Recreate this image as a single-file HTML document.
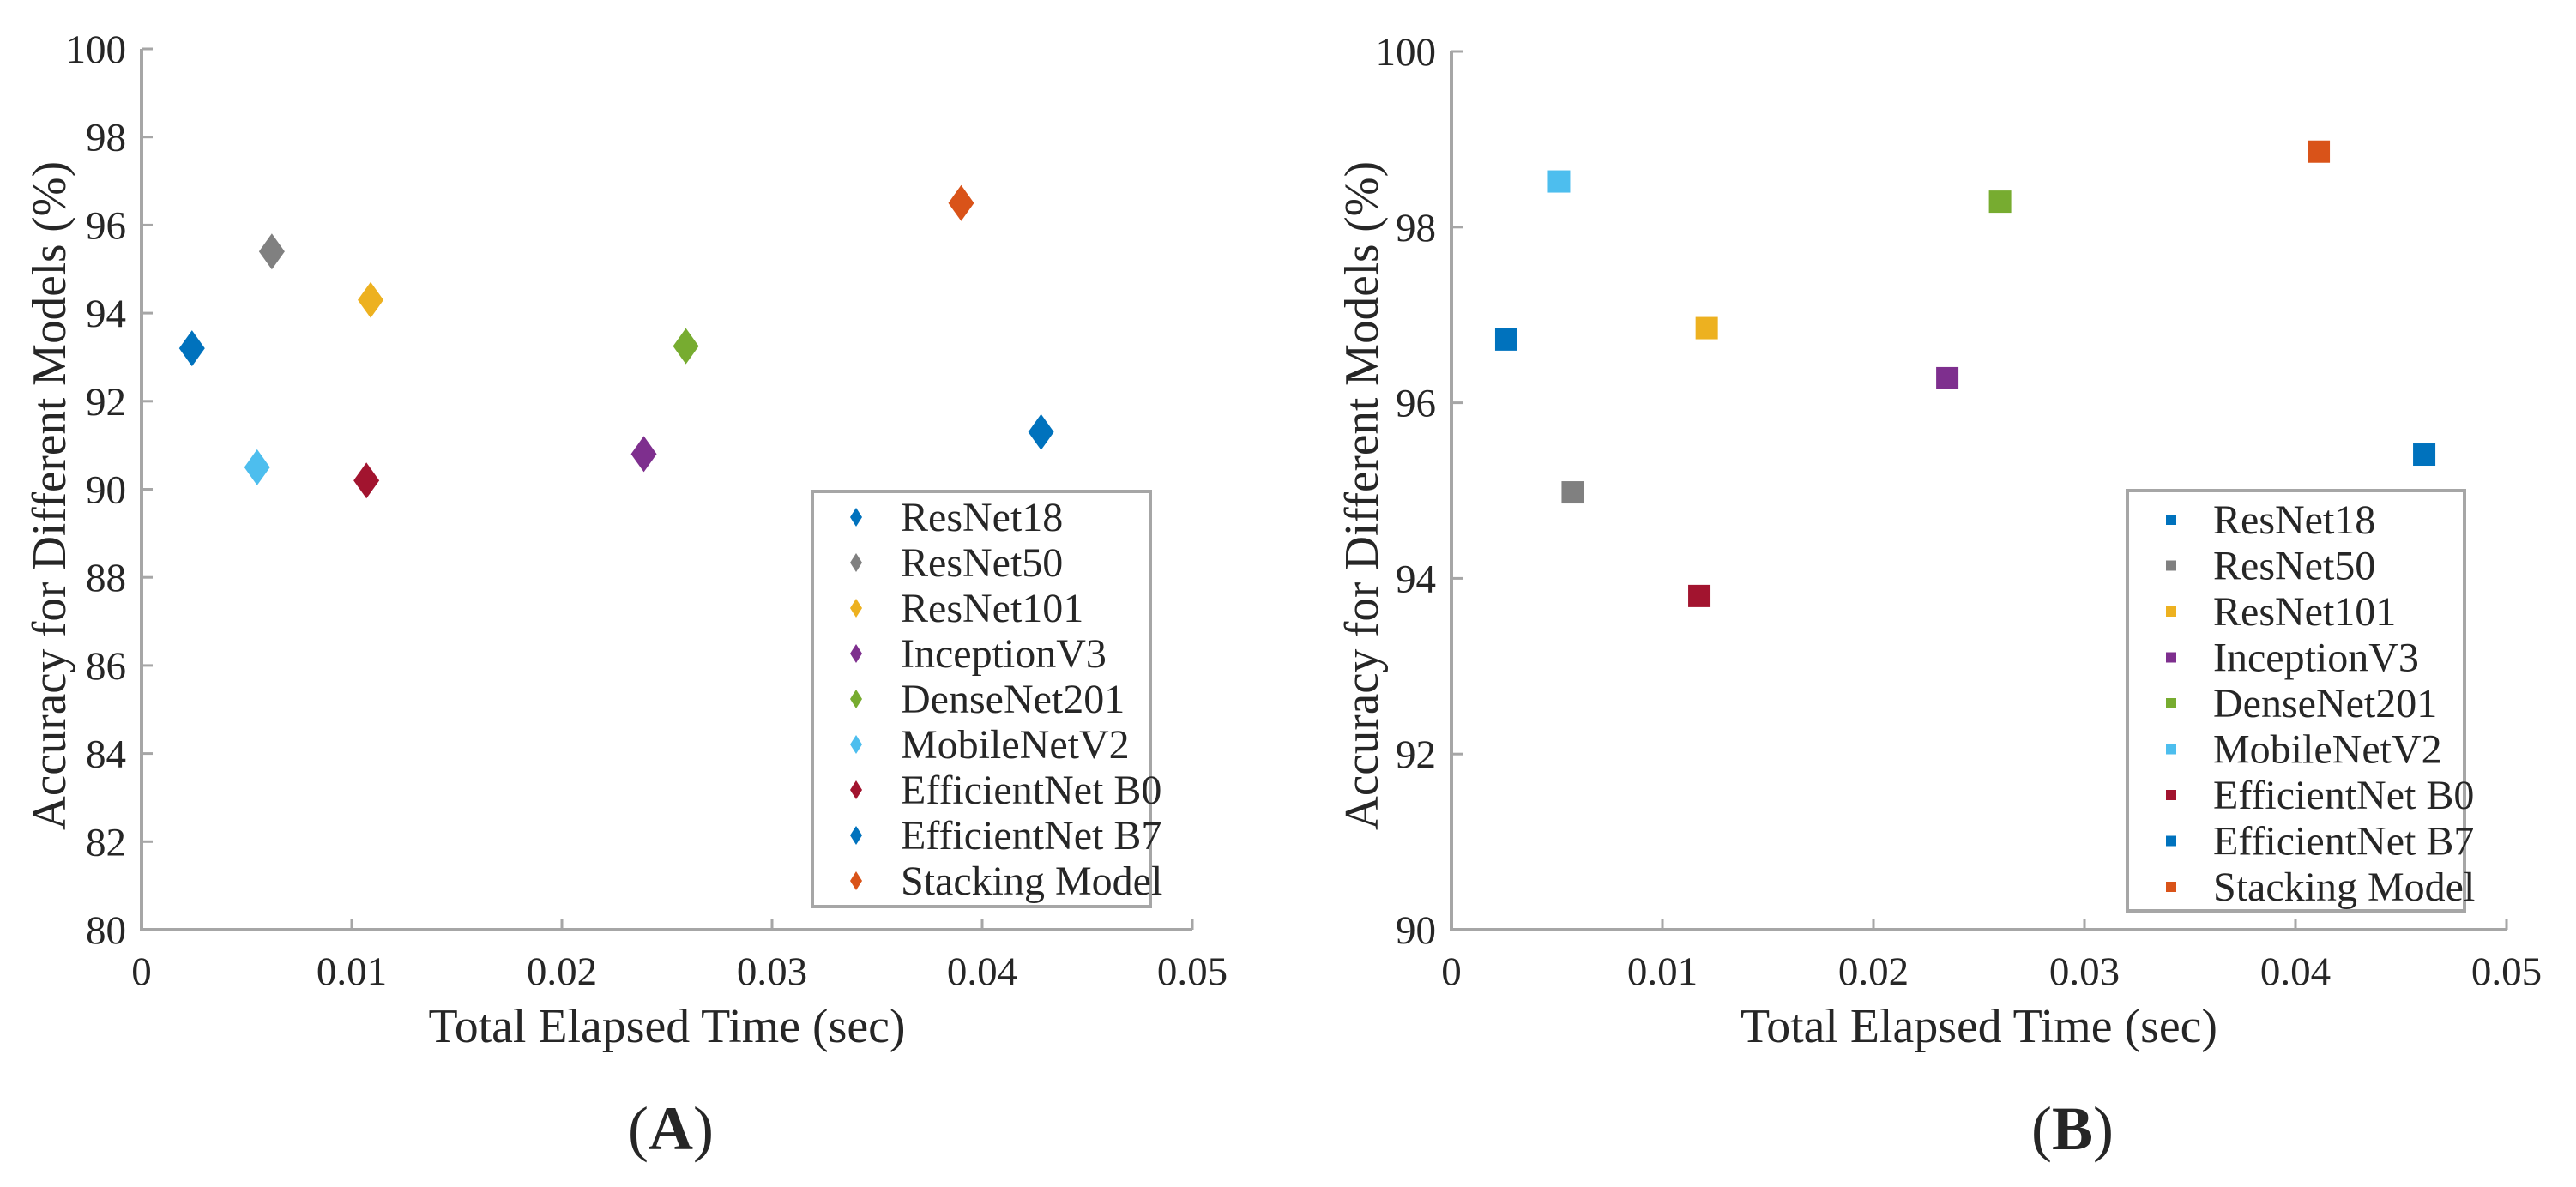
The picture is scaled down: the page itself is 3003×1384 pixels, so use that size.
<!DOCTYPE html>
<html>
<head>
<meta charset="utf-8">
<style>
html,body{margin:0;padding:0;background:#fff;}
svg{display:block;}
text{font-family:"Liberation Serif",serif;fill:#262626;}
</style>
</head>
<body>
<svg id="chart" width="3003" height="1384" viewBox="0 0 3003 1384" xmlns="http://www.w3.org/2000/svg"></svg>
<script>
const models = ["ResNet18","ResNet50","ResNet101","InceptionV3","DenseNet201","MobileNetV2","EfficientNet B0","EfficientNet B7","Stacking Model"];
const colors = ["#0072BD","#808080","#EDB120","#7E2F8E","#77AC30","#4DBEEE","#A2142F","#0072BD","#D95319"];
const timeA = [0.0024,0.0062,0.0109,0.0239,0.0259,0.0055,0.0107,0.0428,0.0390];
const accA  = [93.2,95.4,94.3,90.8,93.25,90.5,90.2,91.3,96.5];
const timeB = [0.0026,0.00575,0.0121,0.0235,0.0260,0.0051,0.01175,0.0461,0.0411];
const accB  = [96.72,94.98,96.85,96.28,98.29,98.52,93.80,95.41,98.86];
const xTicks = ["0","0.01","0.02","0.03","0.04","0.05"];
const yTicksA = ["80","82","84","86","88","90","92","94","96","98","100"];
const yTicksB = ["90","92","94","96","98","100"];

const NS = "http://www.w3.org/2000/svg";
const svg = document.getElementById("chart");
function mk(tag, attrs, parent){
  const e = document.createElementNS(NS, tag);
  for (const k in attrs) e.setAttribute(k, attrs[k]);
  (parent||svg).appendChild(e);
  return e;
}

function panel(cfg){
  const g = mk("g", {});
  
  
  const xs = v => cfg.x0 + (v - 0) / 0.05 * (cfg.x1 - cfg.x0);
  const ys = v => cfg.yb - (v - cfg.ymin) / (cfg.ymax - cfg.ymin) * (cfg.yb - cfg.yt);
  const ax = mk("path", {d:`M${cfg.x0} ${cfg.yt} L${cfg.x0} ${cfg.yb} L${cfg.x1} ${cfg.yb}`, fill:"none", stroke:"#a6a6a6", "stroke-width":4}, g);
  
  
  xTicks.forEach((t,i)=>{
    const v = i*0.01, x = xs(v);
    mk("line", {x1:x, y1:cfg.yb, x2:x, y2:cfg.yb-13, stroke:"#a6a6a6", "stroke-width":3}, g);
    const tx = mk("text", {x:x, y:cfg.yb+64, "text-anchor":"middle", "font-size":47}, g);
    tx.textContent = t;
    
    
  });
  cfg.yTicks.forEach(t=>{
    const y = ys(parseFloat(t));
    mk("line", {x1:cfg.x0, y1:y, x2:cfg.x0+13, y2:y, stroke:"#a6a6a6", "stroke-width":3}, g);
    const tx = mk("text", {x:cfg.x0-18, y:y+16, "text-anchor":"end", "font-size":47}, g);
    tx.textContent = t;
    
    
  });
  const xt = mk("text", {x:(cfg.x0+cfg.x1)/2, y:1215, "text-anchor":"middle", "font-size":56, textLength:556, lengthAdjust:"spacingAndGlyphs"}, g);
  xt.textContent = "Total Elapsed Time (sec)";
  
  
  const yc = 578;
  const yt = mk("text", {x:cfg.ylx, y:yc, "text-anchor":"middle", "font-size":56, transform:`rotate(-90 ${cfg.ylx} ${yc})`, textLength:780, lengthAdjust:"spacingAndGlyphs"}, g);
  yt.textContent = "Accuracy for Different Models (%)";
  
  
  cfg.tx.forEach((tv,i)=>{
    const x = xs(tv), y = ys(cfg.acc[i]);
    let m;
    if (cfg.shape === "diamond") {
      m = mk("path", {d:`M${x} ${y-21} L${x+15} ${y} L${x} ${y+21} L${x-15} ${y} Z`, fill:colors[i]}, g);
    } else {
      m = mk("rect", {x:x-13, y:y-13, width:26, height:26, fill:colors[i]}, g);
    }
    
    
  });
  const L = cfg.leg;
  const lg = mk("g", {}, g);
  
  
  mk("rect", {x:L.x, y:L.y, width:L.w, height:L.h, fill:"#fff", stroke:"#a6a6a6", "stroke-width":4}, lg);
  models.forEach((name,i)=>{
    const y = L.first + i*L.step;
    const eg = mk("g", {}, lg);
    
    
    if (cfg.shape === "diamond") {
      mk("path", {d:`M${L.mx} ${y-11} L${L.mx+7} ${y} L${L.mx} ${y+11} L${L.mx-7} ${y} Z`, fill:colors[i]}, eg);
    } else {
      mk("rect", {x:L.mx-6, y:y-6, width:12, height:12, fill:colors[i]}, eg);
    }
    const t = mk("text", {x:L.tx, y:y+16, "font-size":48}, eg);
    t.textContent = name;
  });
  const cap = mk("text", {x:cfg.capx, y:1340, "text-anchor":"middle", "font-size":72, fill:"#000"}, g);
  
  
  const s1 = mk("tspan", {}, cap); s1.textContent = "(";
  const s2 = mk("tspan", {"font-weight":"bold"}, cap); s2.textContent = cfg.cap;
  const s3 = mk("tspan", {}, cap); s3.textContent = ")";
}

panel({id:"panel-a", x0:165, x1:1390, yt:57, yb:1084, ymin:80, ymax:100, yTicks:yTicksA,
  tx:timeA, acc:accA, shape:"diamond", ylx:76, capx:782, cap:"A",
  leg:{x:947, y:573, w:394, h:484, first:603, step:53, mx:998, tx:1050}});
panel({id:"panel-b", x0:1692, x1:2922, yt:60, yb:1084, ymin:90, ymax:100, yTicks:yTicksB,
  tx:timeB, acc:accB, shape:"square", ylx:1606, capx:2416, cap:"B",
  leg:{x:2480, y:572, w:393, h:490, first:606, step:53.5, mx:2531, tx:2580}});
</script>
</body>
</html>
